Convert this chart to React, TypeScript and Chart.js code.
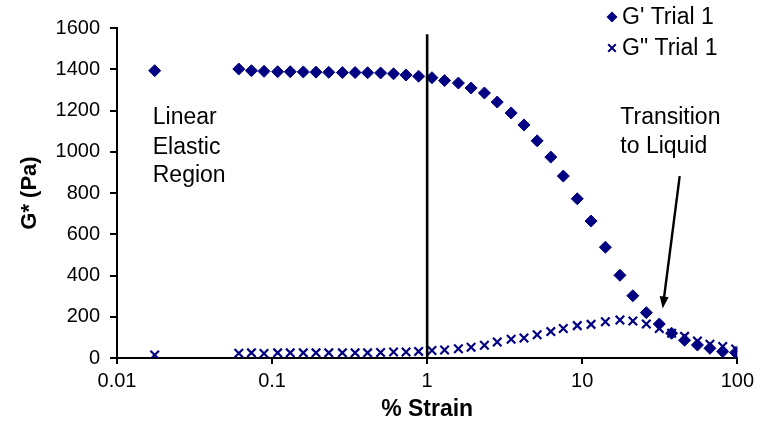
import React, { useEffect, useRef } from 'react';
import { Chart, registerables } from 'chart.js';

Chart.register(...registerables);

// ---- data ----
const strain = [
  0.0175, 0.061, 0.0736, 0.0887, 0.1086, 0.131, 0.159, 0.192, 0.232, 0.284,
  0.343, 0.413, 0.501, 0.607, 0.731, 0.881, 1.074, 1.295, 1.59, 1.92,
  2.34, 2.83, 3.48, 4.21, 5.12, 6.27, 7.55, 9.29, 11.4, 14.1,
  17.5, 21.2, 25.9, 31.4, 37.7, 45.7, 55.3, 66.6, 80.5, 97.5,
];
const gPrime = [
  1393, 1401, 1393, 1390, 1388, 1388, 1387, 1386, 1385, 1384,
  1384, 1383, 1382, 1378, 1372, 1366, 1359, 1345, 1333, 1309,
  1285, 1241, 1188, 1130, 1053, 974, 882, 772, 664, 537,
  401, 302, 220, 165, 120, 86, 63, 47, 31, 26,
];
const gDoublePrime = [
  15, 23, 25, 22, 25, 25, 25, 25, 25, 25,
  25, 25, 27, 29, 29, 32, 36, 39, 45, 52,
  62, 78, 91, 97, 113, 128, 143, 157, 163, 176,
  184, 179, 165, 143, 120, 105, 82, 67, 56, 44,
];
const seriesLabels = ["G' Trial 1", 'G" Trial 1'];
const xTickValues = [0.01, 0.1, 1, 10, 100];
const yTickValues = [0, 200, 400, 600, 800, 1000, 1200, 1400, 1600];
const xTitle = '% Strain';
const yTitle = 'G* (Pa)';
const markerLineX = [1, 1];
const markerLineY = [0, 1570];
const leftNote = ['Linear', 'Elastic', 'Region'];
const rightNote = ['Transition', 'to Liquid'];

const NAVY = '#000080';
const FONT = "'Liberation Sans', Arial, sans-serif";

function drawDiamond(ctx: CanvasRenderingContext2D, x: number, y: number, r: number) {
  ctx.beginPath();
  ctx.moveTo(x - r, y);
  ctx.lineTo(x, y - r);
  ctx.lineTo(x + r, y);
  ctx.lineTo(x, y + r);
  ctx.closePath();
  ctx.fill();
}

function drawCross(ctx: CanvasRenderingContext2D, x: number, y: number, h: number) {
  ctx.beginPath();
  ctx.moveTo(x - h, y - h);
  ctx.lineTo(x + h, y + h);
  ctx.moveTo(x - h, y + h);
  ctx.lineTo(x + h, y - h);
  ctx.stroke();
}

const overlayPlugin = {
  id: 'overlay',
  afterDraw(chart: any) {
    const { ctx } = chart;
    const xs = chart.scales.x;
    const ys = chart.scales.y;
    ctx.save();
    ctx.fillStyle = '#000';
    ctx.textBaseline = 'middle';
    ctx.textAlign = 'left';
    ctx.font = `23px ${FONT}`;

    // Left annotation
    const lx = xs.getPixelForValue(0.017);
    const leftY = [1165, 1020, 883];
    leftNote.forEach((t, i) => ctx.fillText(t, lx, ys.getPixelForValue(leftY[i])));

    // Right annotation
    const rx = xs.getPixelForValue(17.6);
    const rightY = [1165, 1024];
    rightNote.forEach((t, i) => ctx.fillText(t, rx, ys.getPixelForValue(rightY[i])));

    // Arrow
    const x1 = xs.getPixelForValue(42.5);
    const y1 = ys.getPixelForValue(882);
    const x2 = xs.getPixelForValue(33);
    const y2 = ys.getPixelForValue(240);
    const ang = Math.atan2(y2 - y1, x2 - x1);
    const head = 12;
    const half = 4.5;
    ctx.strokeStyle = '#000';
    ctx.lineWidth = 2.4;
    ctx.beginPath();
    ctx.moveTo(x1, y1);
    ctx.lineTo(x2 - Math.cos(ang) * head * 0.8, y2 - Math.sin(ang) * head * 0.8);
    ctx.stroke();
    ctx.beginPath();
    ctx.moveTo(x2, y2);
    ctx.lineTo(
      x2 - Math.cos(ang) * head - Math.sin(ang) * half,
      y2 - Math.sin(ang) * head + Math.cos(ang) * half
    );
    ctx.lineTo(
      x2 - Math.cos(ang) * head + Math.sin(ang) * half,
      y2 - Math.sin(ang) * head - Math.cos(ang) * half
    );
    ctx.closePath();
    ctx.fill();

    // Legend
    ctx.font = `23px ${FONT}`;
    ctx.fillStyle = NAVY;
    ctx.strokeStyle = NAVY;
    ctx.lineWidth = 2;
    drawDiamond(ctx, 612, 17, 5.5);
    drawCross(ctx, 612, 48, 3.8);
    ctx.fillStyle = '#000';
    ctx.fillText(seriesLabels[0], 622, 18);
    ctx.fillText(seriesLabels[1], 622, 49);
    ctx.restore();
  },
};

export default function App() {
  const ref = useRef<HTMLCanvasElement | null>(null);

  useEffect(() => {
    if (!ref.current) return;
    const chart = new Chart(ref.current, {
      type: 'scatter',
      data: {
        datasets: [
          {
            label: 'Linear region limit',
            data: markerLineX.map((x, i) => ({ x, y: markerLineY[i] })),
            showLine: true,
            borderColor: '#000',
            borderWidth: 2.6,
            pointRadius: 0,
            order: 0,
          } as any,
          {
            label: seriesLabels[0],
            data: strain.map((x, i) => ({ x, y: gPrime[i] })),
            pointStyle: 'rectRot',
            pointRadius: 6,
            backgroundColor: NAVY,
            borderColor: NAVY,
            borderWidth: 1,
            order: 1,
          },
          {
            label: seriesLabels[1],
            data: strain.map((x, i) => ({ x, y: gDoublePrime[i] })),
            pointStyle: 'crossRot',
            pointRadius: 6,
            backgroundColor: NAVY,
            borderColor: NAVY,
            borderWidth: 2.2,
            order: 2,
          },
        ],
      },
      options: {
        responsive: false,
        animation: false,
        layout: { padding: { top: 28, right: 19, left: 0, bottom: 0 } },
        plugins: {
          legend: { display: false },
          tooltip: { enabled: false },
        },
        scales: {
          x: {
            type: 'logarithmic',
            min: 0.01,
            max: 100,
            afterBuildTicks: (s: any) => {
              s.ticks = xTickValues.map((v) => ({ value: v }));
            },
            afterFit: (s: any) => {
              s.height = 65;
            },
            border: { display: true, color: '#000', width: 2 },
            grid: {
              display: true,
              drawOnChartArea: false,
              drawTicks: true,
              tickLength: 6,
              color: '#000',
              lineWidth: 2,
            },
            ticks: {
              color: '#000',
              font: { family: FONT, size: 20 },
              padding: 5,
              maxRotation: 0,
              autoSkip: false,
              callback: (v: any) => String(v),
            },
            title: {
              display: true,
              text: xTitle,
              color: '#000',
              font: { family: FONT, size: 23, weight: 'bold' },
              padding: { top: 0, bottom: 0 },
            },
          },
          y: {
            type: 'linear',
            min: 0,
            max: 1600,
            afterBuildTicks: (s: any) => {
              s.ticks = yTickValues.map((v) => ({ value: v }));
            },
            afterFit: (s: any) => {
              s.width = 117;
            },
            border: { display: true, color: '#000', width: 2 },
            grid: {
              display: true,
              drawOnChartArea: false,
              drawTicks: true,
              tickLength: 7,
              color: '#000',
              lineWidth: 2,
            },
            ticks: {
              color: '#000',
              font: { family: FONT, size: 20 },
              padding: 10,
              callback: (v: any) => String(v),
            },
            title: {
              display: true,
              text: yTitle,
              color: '#000',
              font: { family: FONT, size: 22, weight: 'bold' },
              padding: { top: 17, bottom: 0 },
            },
          },
        },
      } as any,
      plugins: [overlayPlugin],
    });
    return () => chart.destroy();
  }, []);

  return (
    <div style={{ position: 'fixed', left: 0, top: 0, width: 759, height: 423, background: '#fff' }}>
      <canvas ref={ref} width={759} height={423} style={{ width: 759, height: 423, display: 'block' }} />
    </div>
  );
}
